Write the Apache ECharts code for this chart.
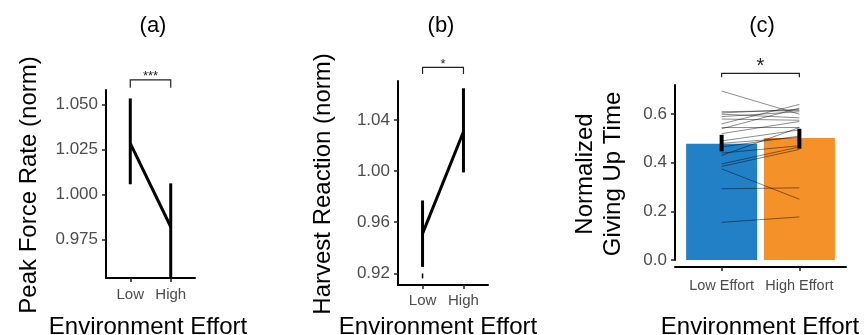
<!DOCTYPE html>
<html><head><meta charset="utf-8">
<script src="https://cdn.jsdelivr.net/npm/echarts@6/dist/echarts.min.js"></script>
<style>html,body{margin:0;padding:0;background:#fff}#c{width:864px;height:335px}</style>
</head><body><div id="c"></div>
<script>
// ---- data ----
const effortLevels = ['Low', 'High'];
const effortLabelsC = ['Low Effort', 'High Effort'];
const panelTitles = ['(a)', '(b)', '(c)'];
const yTitles = ['Peak Force Rate (norm)', 'Harvest Reaction (norm)', 'Normalized\nGiving Up Time'];
const xTitle = 'Environment Effort';

const peakMean  = [1.0283, 0.9820];
const peakLower = [1.0056, 0.9533];
const peakUpper = [1.0533, 1.0061];
const peakTicks = [0.975, 1.000, 1.025, 1.050];

const harvestMean  = [0.951, 1.0308];
const harvestLower = [0.925, 0.999];
const harvestUpper = [0.977, 1.0649];
const harvestTail  = [0.9198, 0.9160];
const harvestTicks = [0.92, 0.96, 1.00, 1.04];

const gutMean  = [0.478, 0.502];
const gutLower = [0.447, 0.458];
const gutUpper = [0.515, 0.540];
const gutTicks = [0, 0.2, 0.4, 0.6];

const subjectLow  = [0.695, 0.610, 0.605, 0.600, 0.590, 0.580, 0.560, 0.545, 0.540, 0.520, 0.490, 0.480, 0.465, 0.440, 0.430, 0.395, 0.385, 0.375, 0.293, 0.155];
const subjectHigh = [0.600, 0.615, 0.620, 0.585, 0.610, 0.575, 0.640, 0.545, 0.625, 0.570, 0.535, 0.505, 0.510, 0.470, 0.545, 0.465, 0.455, 0.250, 0.297, 0.177];

const sigLabels = ['***', '*', '*'];
const sigTop  = [1.0636, 1.0813, 0.768];
const sigDrop = [1.0593, 1.0761, 0.752];

// ---- styling ----
const FONT = '"Liberation Sans", Arial, Helvetica, sans-serif';
const TICKCOL = '#4d4d4d';

function xAxisFor(grid, labels, size, margin, offset) {
  return {
    type: 'value', gridIndex: grid, min: -0.6, max: 1.6, offset: offset || 0,
    splitLine: {show: false},
    axisLine: {show: true, onZero: false, lineStyle: {color: '#000', width: 2}},
    axisTick: {show: true, customValues: [0, 1], length: 4, lineStyle: {color: '#222', width: 1.5}},
    axisLabel: {show: true, customValues: [0, 1], margin: margin, color: TICKCOL, fontSize: size, fontFamily: FONT,
      formatter: v => labels[Math.round(v)]}
  };
}
function yAxisFor(grid, min, max, ticks, dec) {
  return {
    type: 'value', gridIndex: grid, min: min, max: max,
    splitLine: {show: false},
    axisLine: {show: true, onZero: false, lineStyle: {color: '#000', width: 2}},
    axisTick: {show: true, customValues: ticks, length: 4, lineStyle: {color: '#222', width: 1.5}},
    axisLabel: {show: true, customValues: ticks, margin: 8, color: TICKCOL, fontSize: 17, fontFamily: FONT,
      formatter: v => Number(v).toFixed(dec)}
  };
}

function errSeries(idx, lower, upper, width) {
  return {
    type: 'custom', xAxisIndex: idx, yAxisIndex: idx, z: 5,
    data: lower.map((l, i) => [i, l, upper[i]]),
    encode: {x: 0, y: [1, 2]},
    renderItem: (p, api) => {
      const a = api.coord([api.value(0), api.value(1)]);
      const b = api.coord([api.value(0), api.value(2)]);
      return {type: 'line', shape: {x1: a[0], y1: a[1], x2: b[0], y2: b[1]}, style: {stroke: '#000', lineWidth: width}};
    }
  };
}
function meanSeries(idx, mean) {
  return {
    type: 'line', xAxisIndex: idx, yAxisIndex: idx, z: 4, showSymbol: false, symbol: 'none',
    data: mean.map((m, i) => [i, m]),
    lineStyle: {color: '#000', width: 3}
  };
}
function sigSeries(idx, fontSize, lift) {
  return {
    type: 'custom', xAxisIndex: idx, yAxisIndex: idx, clip: false, z: 6,
    data: [[0, 1, sigTop[idx], sigDrop[idx]]],
    encode: {x: [0, 1], y: [2, 3]},
    renderItem: (p, api) => {
      const a = api.coord([api.value(0), api.value(3)]);
      const b = api.coord([api.value(0), api.value(2)]);
      const c = api.coord([api.value(1), api.value(2)]);
      const d = api.coord([api.value(1), api.value(3)]);
      return {type: 'group', children: [
        {type: 'polyline', shape: {points: [a, b, c, d]}, style: {stroke: '#222', lineWidth: 1.2, fill: null}},
        {type: 'text', x: (b[0] + c[0]) / 2, y: b[1] - lift,
          style: {text: sigLabels[idx], fontSize: fontSize, fontFamily: FONT, fill: '#222', align: 'center', verticalAlign: 'middle'}}
      ]};
    }
  };
}

const barColors = ['#2281c6', '#f59129'];

const option = {
  animation: false,
  backgroundColor: '#fff',
  grid: [
    {left: 106, top: 90, width: 89, height: 188},
    {left: 398, top: 81, width: 90, height: 204},
    {left: 675, top: 85, width: 171, height: 175}
  ],
  xAxis: [
    xAxisFor(0, effortLevels, 15, 9),
    xAxisFor(1, effortLevels, 15, 8),
    xAxisFor(2, effortLabelsC, 14.5, 11, 7)
  ],
  yAxis: [
    yAxisFor(0, 0.9535, 1.058, peakTicks, 3),
    yAxisFor(1, 0.9108, 1.0706, harvestTicks, 2),
    yAxisFor(2, 0, 0.72, gutTicks, 1)
  ],
  graphic: [
    ...[153, 441, 762].map((x, i) => ({type: 'text', x: x, y: 26, style: {text: panelTitles[i], fontSize: 22, fontFamily: FONT, fill: '#000', align: 'center', verticalAlign: 'middle'}})),
    ...[[29, 185], [323, 184]].map((p, i) => ({type: 'text', x: p[0], y: p[1], rotation: Math.PI / 2,
      style: {text: yTitles[i], fontSize: 24, fontFamily: FONT, fill: '#000', align: 'center', verticalAlign: 'middle'}})),
    {type: 'text', x: 599, y: 174, rotation: Math.PI / 2,
      style: {text: yTitles[2], fontSize: 24, lineHeight: 28, fontFamily: FONT, fill: '#000', align: 'center', verticalAlign: 'middle'}},
    ...[148, 438, 760].map(x => ({type: 'text', x: x, y: 327, style: {text: xTitle, fontSize: 24, fontFamily: FONT, fill: '#000', align: 'center', verticalAlign: 'middle'}}))
  ],
  series: [
    meanSeries(0, peakMean),
    errSeries(0, peakLower, peakUpper, 3),
    sigSeries(0, 13, 4),
    meanSeries(1, harvestMean),
    errSeries(1, harvestLower, harvestUpper, 3),
    errSeries(1, [harvestTail[1]], [harvestTail[0]], 1.5),
    sigSeries(1, 13, 3),
    {
      type: 'custom', xAxisIndex: 2, yAxisIndex: 2, z: 2,
      data: gutMean.map((m, i) => [i, m]),
      encode: {x: 0, y: 1},
      renderItem: (p, api) => {
        const half = api.size([1, 0])[0] * 0.457;
        const top = api.coord([api.value(0), api.value(1)]);
        const base = api.coord([api.value(0), 0]);
        return {type: 'rect', shape: {x: top[0] - half, y: top[1], width: half * 2, height: base[1] - top[1]},
          style: {fill: barColors[p.dataIndex]}};
      }
    },
    {
      type: 'custom', xAxisIndex: 2, yAxisIndex: 2, z: 3,
      data: subjectLow.map((v, i) => [0, v, 1, subjectHigh[i]]),
      encode: {x: [0, 2], y: [1, 3]},
      renderItem: (p, api) => {
        const a = api.coord([api.value(0), api.value(1)]);
        const b = api.coord([api.value(2), api.value(3)]);
        return {type: 'line', shape: {x1: a[0], y1: a[1], x2: b[0], y2: b[1]}, style: {stroke: 'rgba(0,0,0,0.45)', lineWidth: 1}};
      }
    },
    errSeries(2, gutLower, gutUpper, 4),
    sigSeries(2, 20, 7)
  ]
};
const chart = echarts.init(document.getElementById('c'), null, {renderer: 'canvas'});
chart.setOption(option);
</script>
</body></html>
